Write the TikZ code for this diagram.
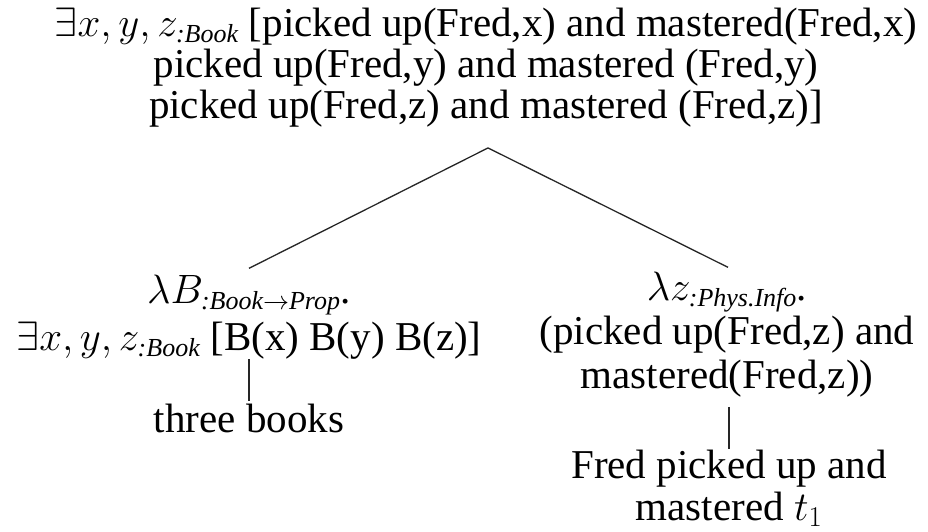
\RequirePackage{fix-cm}
\documentclass[tikz,border=0pt]{standalone}
\usepackage{fontspec}
\setmainfont{Liberation Serif}
\usetikzlibrary{calc}

% type annotation set as a lowered italic subscript
\newcommand{\typ}[1]{_{\mbox{\rmfamily\itshape\fontsize{26}{26}\selectfont #1}}}

\tikzset{
  lbl/.style={font=\fontsize{41}{42}\selectfont, align=center, inner sep=0pt, anchor=base},
  branch/.style={line width=1.3pt, draw=black!85}
}

\begin{document}
\begin{tikzpicture}[x=1pt,y=1pt]
  \useasboundingbox (0,0) rectangle (928,-531);

  % root formula (anchored at the baseline of its last line)
  \node[lbl, font=\fontsize{41}{41}\selectfont] (root) at (486,-118)
    {$\exists x, y, z\typ{:Book}$ [picked up(Fred,x) and mastered(Fred,x)\\
     picked up(Fred,y) and mastered (Fred,y)\\
     picked up(Fred,z) and mastered (Fred,z)]};

  % left daughter: the quantifier
  \node[lbl] (quant) at (249,-350)
    {$\lambda B\typ{:Book$\rightarrow$Prop}$.\\[5pt]
     $\exists x, y, z\typ{:Book}$ [B(x) B(y) B(z)]};
  \node[lbl] (books) at (249,-432) {three books};

  % right daughter: the predicate
  \node[lbl, font=\fontsize{41}{44}\selectfont] (pred) at (727,-388)
    {$\lambda z\typ{:Phys.Info}$.\\
     (picked up(Fred,z) and\\
     mastered(Fred,z))};
  \node[lbl] (clause) at (729,-520) {Fred picked up and\\ mastered $t_1$};

  % branches
  \draw[branch] ($(root.south)+(2,-21)$) -- ($(quant.north)+(0,6)$);
  \draw[branch] ($(root.south)+(2,-21)$) -- ($(pred.north)+(1,4)$);
  \draw[branch] ($(quant.south)+(0,0)$) -- ($(books.north)+(0,2)$);
  \draw[branch] ($(pred.south)+(2,-10)$) -- ($(clause.north)+(0,0)$);
\end{tikzpicture}
\end{document}
